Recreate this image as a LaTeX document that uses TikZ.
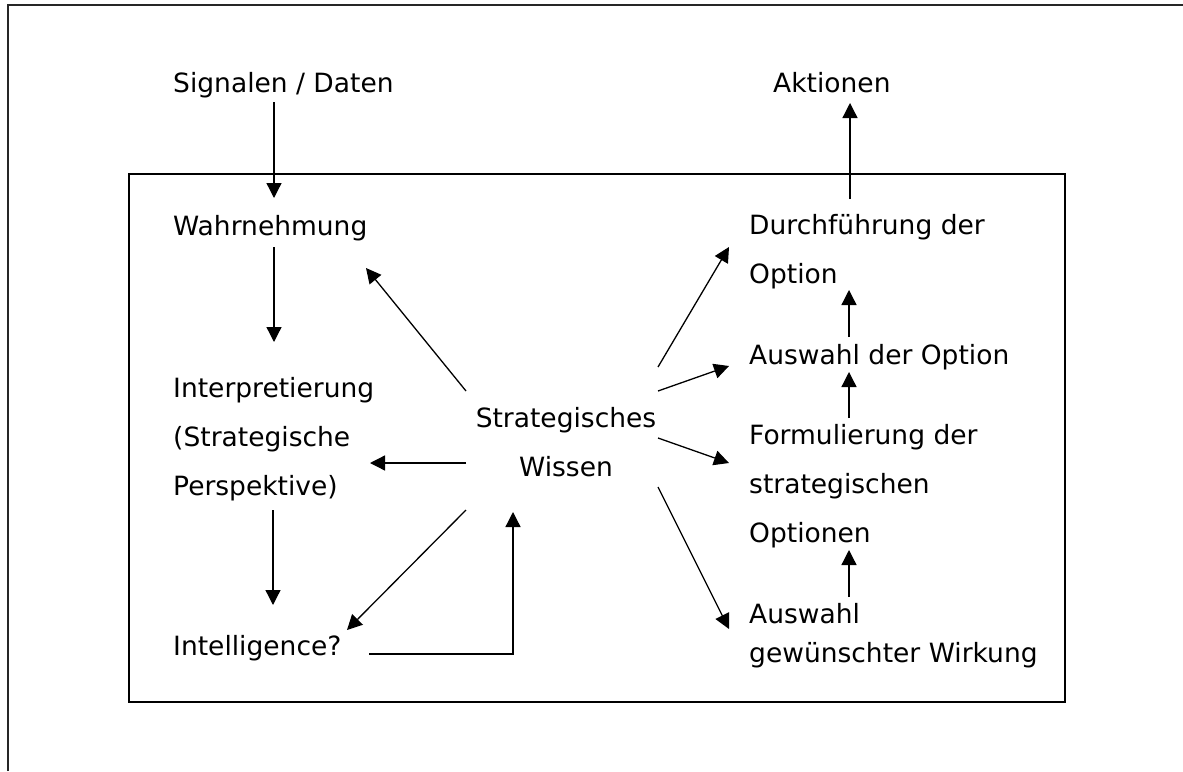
\documentclass[tikz,border=0pt]{standalone}
\usepackage{fontspec}
\setmainfont{DejaVu Sans}
\usetikzlibrary{arrows.meta}
\begin{document}
\begin{tikzpicture}[x=1pt,y=-1pt,
  lbl/.style={anchor=base west, inner sep=0pt, font=\fontsize{26.5}{32}\selectfont},
  ctr/.style={anchor=base, inner sep=0pt, font=\fontsize{26.5}{32}\selectfont},
  arr/.style={-{Triangle[length=15pt,width=15pt]}, line width=1.3pt},
  plain/.style={line width=1.3pt}]
\useasboundingbox (0,0) rectangle (1183,771);

% page frame and process box
\draw[line width=1.2pt, black!85] (8,771) -- (8,5) -- (1183,5);
\draw[line width=1.3pt] (129,174) rectangle (1065,702);

% texts
\node[lbl] (sig)    at (173,92)  {Signalen / Daten};
\node[lbl] (akt)    at (773,92)  {Aktionen};
\node[lbl] (wahr)   at (173,235) {Wahrnehmung};
\node[lbl] (int1)   at (173,397) {Interpretierung};
\node[lbl] (int2)   at (173,446) {(Strategische};
\node[lbl] (int3)   at (173,495) {Perspektive)};
\node[lbl] (intel)  at (173,655) {Intelligence?};
\node[ctr] (sw1)    at (566,427) {Strategisches};
\node[ctr] (sw2)    at (566,476) {Wissen};
\node[lbl] (durch1) at (749,234) {Durchführung der};
\node[lbl] (durch2) at (749,283) {Option};
\node[lbl] (ausw)   at (749,364) {Auswahl der Option};
\node[lbl] (form1)  at (749,444) {Formulierung der};
\node[lbl] (form2)  at (749,493) {strategischen};
\node[lbl] (form3)  at (749,542) {Optionen};
\node[lbl] (wirk1)  at (749,623) {Auswahl};
\node[lbl] (wirk2)  at (749,662) {gewünschter Wirkung};

% arrow end points
\coordinate (sigS)   at (274,102);
\coordinate (wahrN)  at (274,198);
\coordinate (wahrS)  at (274,247);
\coordinate (intN)   at (274,342);
\coordinate (intS)   at (273,510);
\coordinate (intelN) at (273,605);
\coordinate (wahrSE) at (366,268);
\coordinate (intE)   at (370,463);
\coordinate (intelNE) at (347,630);
\coordinate (intelE) at (369,654);
\coordinate (bend)   at (513,654);
\coordinate (swS)    at (513,512);
\coordinate (swNW)   at (466,391);
\coordinate (swW)    at (466,463);
\coordinate (swSW)   at (466,510);
\coordinate (swNE1)  at (658,367);
\coordinate (swNE2)  at (658,391);
\coordinate (swSE1)  at (658,438);
\coordinate (swSE2)  at (658,487);
\coordinate (durchW) at (729,247);
\coordinate (auswW)  at (729,366);
\coordinate (formW)  at (729,463);
\coordinate (wirkW)  at (729,629);
\coordinate (durchN) at (850,199);
\coordinate (aktS)   at (850,103);
\coordinate (wirkN)  at (849,597);
\coordinate (optS)   at (849,550);
\coordinate (formN)  at (849,418);
\coordinate (auswS)  at (849,372);
\coordinate (auswN)  at (849,337);
\coordinate (durchS) at (849,290);

% left chain
\draw[arr] (sigS) -- (wahrN);
\draw[arr] (wahrS) -- (intN);
\draw[arr] (intS) -- (intelN);

% from the strategic knowledge to the left side
\draw[arr] (swNW) -- (wahrSE);
\draw[arr] (swW) -- (intE);
\draw[arr] (swSW) -- (intelNE);
\draw[arr] (intelE) -- (bend) -- (swS);

% from the strategic knowledge to the right side
\draw[arr] (swNE1) -- (durchW);
\draw[arr] (swNE2) -- (auswW);
\draw[arr] (swSE1) -- (formW);
\draw[arr] (swSE2) -- (wirkW);

% right chain
\draw[arr] (wirkN) -- (optS);
\draw[arr] (formN) -- (auswS);
\draw[arr] (auswN) -- (durchS);
\draw[arr] (durchN) -- (aktS);
\end{tikzpicture}
\end{document}
